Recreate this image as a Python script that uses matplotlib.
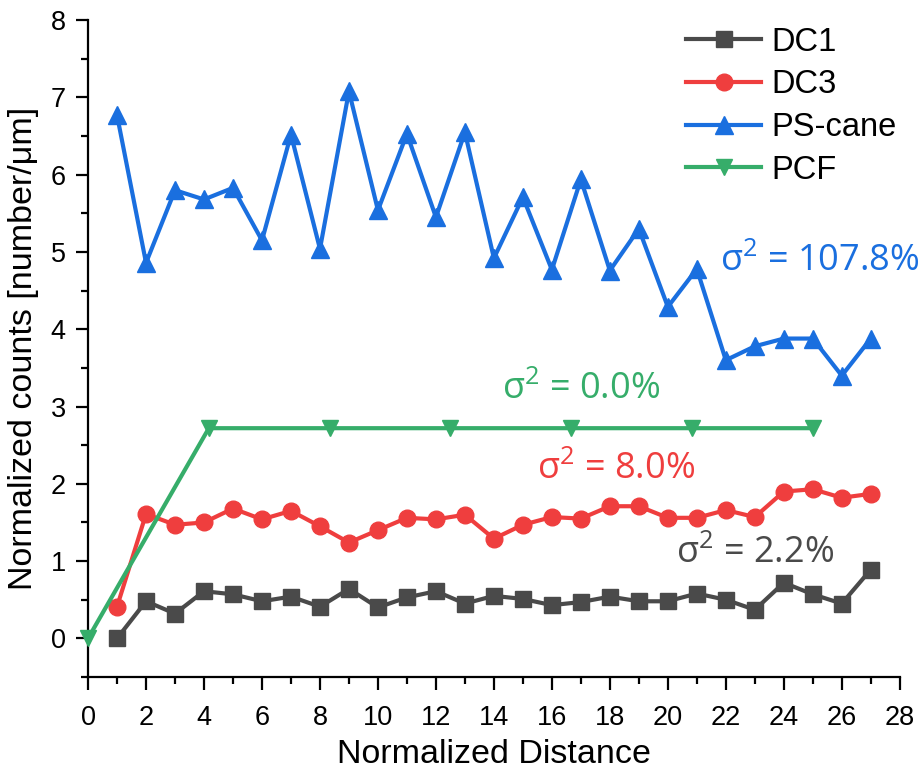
import matplotlib
matplotlib.use("Agg")
import matplotlib.pyplot as plt
from matplotlib.ticker import MultipleLocator

plt.rcParams['font.family'] = ['Liberation Sans', 'DejaVu Sans']
plt.rcParams['mathtext.default'] = 'regular'

# Normalized distance positions
x_dc = list(range(1, 28))
x_pcf = [0, 25 / 6, 50 / 6, 75 / 6, 100 / 6, 125 / 6, 25]

# Normalized counts per series
dc1 = [0.00, 0.48, 0.32, 0.61, 0.57, 0.48, 0.54, 0.41, 0.64, 0.40,
       0.53, 0.61, 0.45, 0.55, 0.51, 0.43, 0.47, 0.54, 0.48, 0.48,
       0.58, 0.50, 0.37, 0.72, 0.57, 0.45, 0.89]
dc3 = [0.41, 1.61, 1.47, 1.50, 1.68, 1.54, 1.65, 1.45, 1.24, 1.40,
       1.56, 1.54, 1.60, 1.29, 1.47, 1.57, 1.55, 1.71, 1.71, 1.56,
       1.56, 1.66, 1.57, 1.90, 1.93, 1.82, 1.87]
ps_cane = [6.77, 4.86, 5.80, 5.68, 5.83, 5.15, 6.52, 5.04, 7.08, 5.54,
           6.53, 5.45, 6.55, 4.92, 5.71, 4.77, 5.94, 4.76, 5.30, 4.29,
           4.78, 3.60, 3.78, 3.88, 3.88, 3.40, 3.88]
pcf = [0.0, 2.72, 2.72, 2.72, 2.72, 2.72, 2.72]

series_names = ["DC1", "DC3", "PS-cane", "PCF"]
variances = ["2.2%", "8.0%", "107.8%", "0.0%"]

c_gray = "#4a4a4a"
c_red = "#ef3e3e"
c_blue = "#1a6fdf"
c_green = "#36ad6a"

fig = plt.figure(figsize=(9.2, 7.77), dpi=100)
ax = fig.add_axes([0.0957, 0.1287, 0.8823, 0.8453])

lw = 3.0
ax.plot(x_dc, dc1, color=c_gray, lw=lw, marker='s', ms=11, label=series_names[0],
        zorder=3, clip_on=False)
ax.plot(x_dc, dc3, color=c_red, lw=lw, marker='o', ms=12, label=series_names[1],
        zorder=3, clip_on=False)
ax.plot(x_dc, ps_cane, color=c_blue, lw=lw, marker='^', ms=13, label=series_names[2],
        zorder=3, clip_on=False)
ax.plot(x_pcf, pcf, color=c_green, lw=lw, marker='v', ms=12, label=series_names[3],
        zorder=3, clip_on=False)

ax.set_xlim(0, 28)
ax.set_ylim(-0.5, 8)
ax.xaxis.set_major_locator(MultipleLocator(2))
ax.xaxis.set_minor_locator(MultipleLocator(1))
ax.yaxis.set_major_locator(MultipleLocator(1))
ax.yaxis.set_minor_locator(MultipleLocator(0.5))

for side in ("top", "right"):
    ax.spines[side].set_visible(False)
for side in ("left", "bottom"):
    ax.spines[side].set_linewidth(1.6)

ax.tick_params(axis='both', which='major', direction='out', length=9, width=1.6,
               labelsize=19.5, pad=7)
ax.tick_params(axis='x', which='major', pad=11)
ax.tick_params(axis='both', which='minor', direction='out', length=5, width=1.6)

ax.set_xlabel("Normalized Distance", fontsize=24.5, labelpad=6)
ax.set_ylabel("Normalized counts [number/\u03bcm]", fontsize=24.5, labelpad=8)

leg = ax.legend(loc='upper right', bbox_to_anchor=(1.02, 1.02), frameon=False,
                fontsize=23.5, handlelength=2.3, handletextpad=0.3,
                labelspacing=0.36, borderaxespad=0.2)

afont = dict(fontsize=26, family=['Open Sans', 'DejaVu Sans'])
ax.text(21.8, 4.87, "\u03c3$^{2}$ = " + variances[2], color=c_blue, ha='left', va='center', **afont)
ax.text(17.0, 3.22, "\u03c3$^{2}$ = " + variances[3], color=c_green, ha='center', va='center', **afont)
ax.text(18.2, 2.18, "\u03c3$^{2}$ = " + variances[1], color=c_red, ha='center', va='center', **afont)
ax.text(23.0, 1.09, "\u03c3$^{2}$ = " + variances[0], color=c_gray, ha='center', va='center', **afont)

fig.savefig("out.png", dpi=100)
